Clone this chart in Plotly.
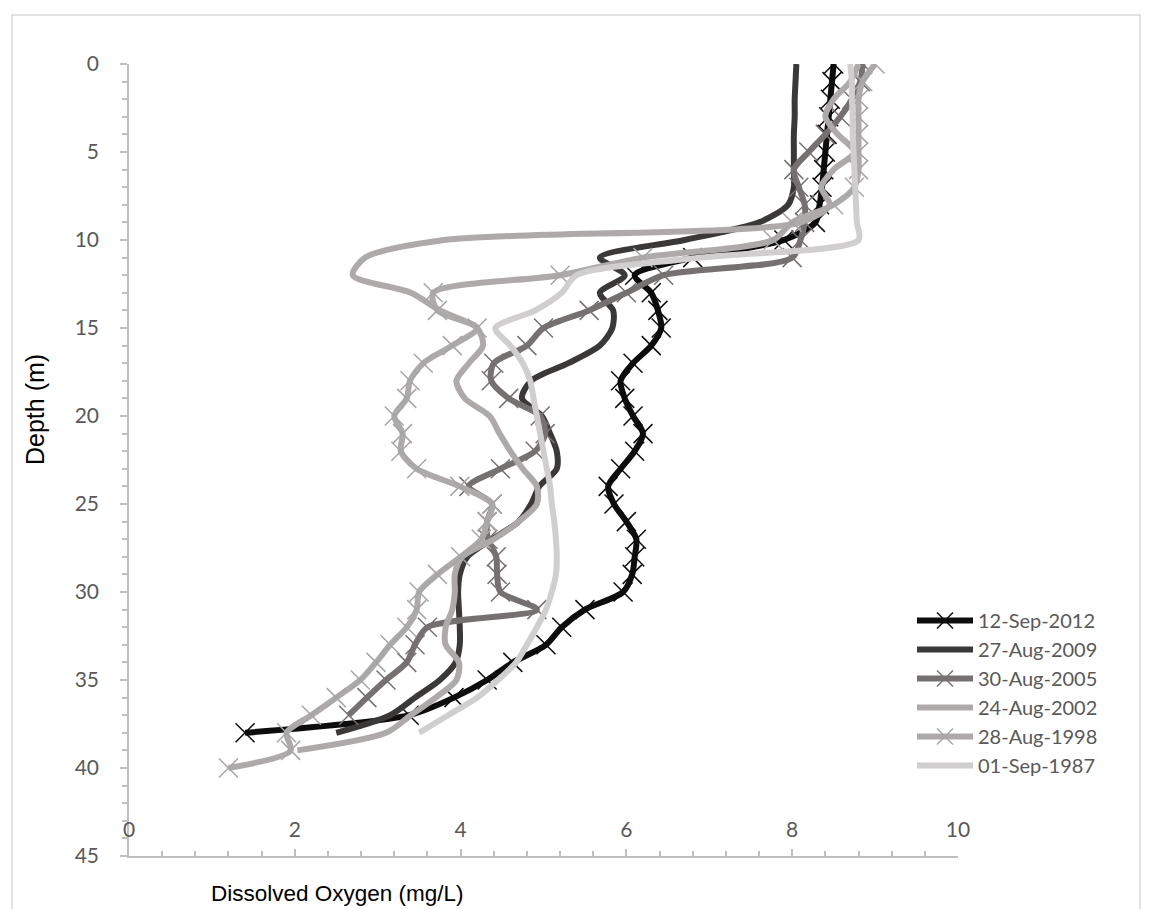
import plotly.graph_objects as go

# ---------------- data ----------------
depth_2012 = list(range(0, 39))
do_2012 = [8.50, 8.48, 8.46, 8.44, 8.42, 8.40, 8.38, 8.36, 8.33, 8.28,
           7.90, 6.80, 6.10, 6.30, 6.38, 6.42, 6.30, 6.08, 5.93, 5.98,
           6.08, 6.20, 6.10, 5.93, 5.78, 5.85, 6.00, 6.12, 6.10, 6.07,
           5.96, 5.50, 5.22, 5.03, 4.63, 4.32, 3.92, 3.38, 1.40]

depth_2009 = list(range(0, 39))
do_2009 = [8.05, 8.04, 8.03, 8.03, 8.02, 8.02, 8.02, 8.02, 7.95, 7.60,
           6.70, 5.68, 5.98, 5.68, 5.84, 5.83, 5.68, 5.30, 4.85, 4.74,
           4.98, 5.08, 5.16, 5.16, 4.95, 4.85, 4.70, 4.38, 4.08, 3.99,
           3.97, 3.98, 3.99, 3.99, 3.94, 3.75, 3.45, 3.15, 2.50]

depth_2005 = list(range(0, 38))
do_2005 = [8.85, 8.82, 8.72, 8.58, 8.40, 8.20, 8.02, 8.08, 8.15, 8.15,
           8.10, 8.00, 6.45, 6.00, 5.55, 5.00, 4.80, 4.40, 4.37, 4.58,
           4.96, 5.02, 4.90, 4.48, 4.10, 4.38, 4.32, 4.33, 4.43, 4.44,
           4.48, 4.92, 3.60, 3.45, 3.35, 3.10, 2.87, 2.65]

depth_2002 = list(range(0, 40))
do_2002 = [8.80, 8.70, 8.50, 8.40, 8.55, 8.75, 8.50, 8.35, 8.45, 8.10,
           3.80, 2.85, 2.70, 3.40, 3.75, 4.20, 4.27, 4.10, 3.95, 4.05,
           4.35, 4.47, 4.60, 4.75, 4.92, 4.92, 4.70, 4.40, 4.02, 3.93,
           3.93, 3.90, 3.82, 3.82, 3.98, 3.95, 3.70, 3.40, 3.10, 2.03]

depth_1998 = list(range(0, 41))
do_1998 = [9.00, 8.85, 8.80, 8.80, 8.80, 8.80, 8.80, 8.75, 8.50, 8.00,
           7.77, 6.20, 5.20, 3.67, 3.72, 4.20, 3.90, 3.55, 3.39, 3.35,
           3.20, 3.30, 3.28, 3.47, 3.99, 4.38, 4.32, 4.25, 4.00, 3.72,
           3.50, 3.47, 3.35, 3.15, 2.98, 2.79, 2.50, 2.20, 1.90, 1.95,
           1.20]

depth_1987 = list(range(0, 39))
do_1987 = [8.70, 8.72, 8.72, 8.73, 8.73, 8.74, 8.75, 8.76, 8.77, 8.78,
           8.80, 6.90, 5.40, 5.22, 4.90, 4.42, 4.60, 4.75, 4.84, 4.88,
           4.92, 4.96, 5.00, 5.04, 5.08, 5.10, 5.13, 5.15, 5.16, 5.15,
           5.10, 5.03, 4.92, 4.80, 4.67, 4.45, 4.20, 3.85, 3.50]

series_names = ["12-Sep-2012", "27-Aug-2009", "30-Aug-2005",
                "24-Aug-2002", "28-Aug-1998", "01-Sep-1987"]
x_ticks = [0, 2, 4, 6, 8, 10]
y_ticks = [0, 5, 10, 15, 20, 25, 30, 35, 40, 45]

# ---------------- styling ----------------
styles = [
    dict(x=do_2012, y=depth_2012, color="#0d0d0d", marker=True, mcolor="#0d0d0d"),
    dict(x=do_2009, y=depth_2009, color="#3b3838", marker=False, mcolor=None),
    dict(x=do_2005, y=depth_2005, color="#767171", marker=True, mcolor="#767171"),
    dict(x=do_2002, y=depth_2002, color="#aeaaaa", marker=False, mcolor=None),
    dict(x=do_1998, y=depth_1998, color="#aeaaaa", marker=True, mcolor="#a6a6a6"),
    dict(x=do_1987, y=depth_1987, color="#d0cece", marker=False, mcolor=None),
]

fig = go.Figure()
for name, s in zip(series_names, styles):
    kw = dict(
        x=s["x"], y=s["y"], name=name,
        line=dict(color=s["color"], width=6, shape="spline", smoothing=0.8),
    )
    if s["marker"]:
        kw["mode"] = "lines+markers"
        kw["marker"] = dict(symbol="x-thin", size=19,
                            line=dict(color=s["mcolor"], width=1.5),
                            color=s["mcolor"])
    else:
        kw["mode"] = "lines"
    fig.add_trace(go.Scatter(**kw))

# empty helper trace so the label-only x axis is drawn
fig.add_trace(go.Scatter(x=[], y=[], xaxis="x2", yaxis="y",
                         showlegend=False, hoverinfo="skip"))

W, H = 1150, 909
L, R, T, B = 129, 192, 64, 53
pw, ph = W - L - R, H - T - B


def px_x(px):
    return (px - L) / pw


def px_y(py):
    return 1 - (py - T) / ph


axis_col = "#bfbfbf"
tick_font = dict(family="Lato", size=21, color="#595959")

fig.update_layout(
    width=W, height=H,
    margin=dict(l=L, r=R, t=T, b=B),
    paper_bgcolor="white", plot_bgcolor="white",
    showlegend=True,
    legend=dict(
        x=px_x(912), y=px_y(601), xanchor="left", yanchor="top",
        font=dict(family="Lato", size=20, color="#595959"),
        bgcolor="rgba(0,0,0,0)", borderwidth=0, itemwidth=56,
    ),
    xaxis=dict(
        range=[0, 10], tickmode="array", tickvals=x_ticks,
        showticklabels=False,
        showgrid=False, zeroline=False,
        showline=True, linecolor=axis_col, linewidth=1.5,
        ticks="inside", ticklen=7, tickcolor=axis_col, tickwidth=1.5,
        minor=dict(dtick=0.4, tick0=0, ticks="inside", ticklen=5,
                   tickcolor=axis_col, tickwidth=1.5, showgrid=False),
    ),
    xaxis2=dict(
        overlaying="x", matches="x", anchor="free", position=px_y(815),
        side="bottom", tickmode="array", tickvals=x_ticks,
        ticktext=[str(v) for v in x_ticks],
        showline=False, ticks="", showgrid=False, zeroline=False,
        tickfont=tick_font,
    ),
    yaxis=dict(
        range=[45, 0], tickmode="array", tickvals=y_ticks,
        ticktext=[str(v) for v in y_ticks],
        showgrid=False, zeroline=False,
        showline=True, linecolor=axis_col, linewidth=1.5,
        ticks="outside", ticklen=7, tickcolor=axis_col, tickwidth=1.5,
        ticklabelstandoff=17,
        tickfont=tick_font,
        minor=dict(dtick=1, tick0=0, ticks="outside", ticklen=5,
                   tickcolor=axis_col, tickwidth=1.5, showgrid=False),
    ),
    annotations=[
        dict(text="Depth (m)", xref="paper", yref="paper",
             x=px_x(35), y=px_y(410), textangle=-90, showarrow=False,
             font=dict(family="Liberation Sans", size=25, color="#000000"),
             xanchor="center", yanchor="middle"),
        dict(text="Dissolved Oxygen (mg/L)", xref="paper", yref="paper",
             x=px_x(337), y=px_y(893), showarrow=False,
             font=dict(family="Liberation Sans", size=22.5, color="#000000"),
             xanchor="center", yanchor="middle"),
    ],
    shapes=[
        dict(type="rect", xref="paper", yref="paper",
             x0=px_x(12), x1=px_x(1140), y0=px_y(925), y1=px_y(15),
             line=dict(color="#d9d9d9", width=1.5), fillcolor="rgba(0,0,0,0)",
             layer="below"),
    ],
)

fig.write_html("out.html")
